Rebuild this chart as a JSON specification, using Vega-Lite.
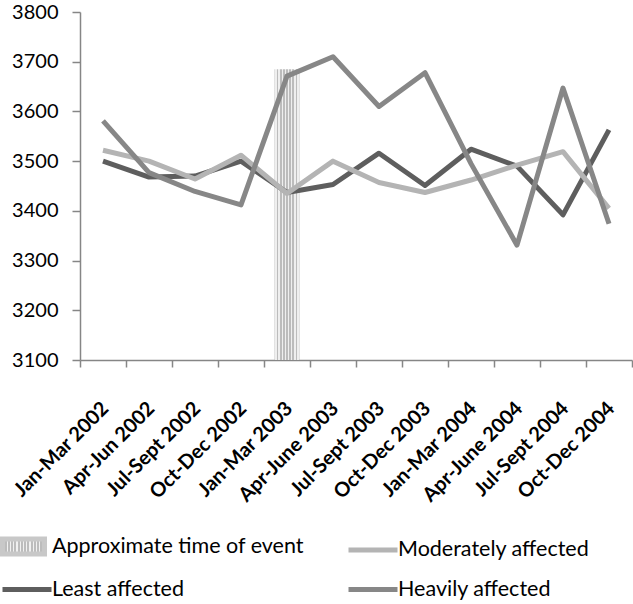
{
  "$schema": "https://vega.github.io/schema/vega-lite/v6.json",
  "width": 552,
  "height": 348,
  "autosize": {"type": "none"},
  "padding": {"left": 80, "top": 12, "right": 1, "bottom": 244},
  "background": "white",
  "config": {"view": {"stroke": null}, "font": "Lato"},
  "datasets": {
    "event": [{"quarter": "Jan-Mar 2003", "value": 3685}],
    "series": [
      {"quarter": "Jan-Mar 2002", "series": "Least affected", "value": 3500},
      {"quarter": "Apr-Jun 2002", "series": "Least affected", "value": 3468},
      {"quarter": "Jul-Sept 2002", "series": "Least affected", "value": 3470},
      {"quarter": "Oct-Dec 2002", "series": "Least affected", "value": 3500},
      {"quarter": "Jan-Mar 2003", "series": "Least affected", "value": 3437},
      {"quarter": "Apr-June 2003", "series": "Least affected", "value": 3453},
      {"quarter": "Jul-Sept 2003", "series": "Least affected", "value": 3516},
      {"quarter": "Oct-Dec 2003", "series": "Least affected", "value": 3451},
      {"quarter": "Jan-Mar 2004", "series": "Least affected", "value": 3524},
      {"quarter": "Apr-June 2004", "series": "Least affected", "value": 3490},
      {"quarter": "Jul-Sept 2004", "series": "Least affected", "value": 3392},
      {"quarter": "Oct-Dec 2004", "series": "Least affected", "value": 3563},
      {"quarter": "Jan-Mar 2002", "series": "Moderately affected", "value": 3522},
      {"quarter": "Apr-Jun 2002", "series": "Moderately affected", "value": 3500},
      {"quarter": "Jul-Sept 2002", "series": "Moderately affected", "value": 3464},
      {"quarter": "Oct-Dec 2002", "series": "Moderately affected", "value": 3512},
      {"quarter": "Jan-Mar 2003", "series": "Moderately affected", "value": 3435},
      {"quarter": "Apr-June 2003", "series": "Moderately affected", "value": 3500},
      {"quarter": "Jul-Sept 2003", "series": "Moderately affected", "value": 3457},
      {"quarter": "Oct-Dec 2003", "series": "Moderately affected", "value": 3437},
      {"quarter": "Jan-Mar 2004", "series": "Moderately affected", "value": 3462},
      {"quarter": "Apr-June 2004", "series": "Moderately affected", "value": 3492},
      {"quarter": "Jul-Sept 2004", "series": "Moderately affected", "value": 3519},
      {"quarter": "Oct-Dec 2004", "series": "Moderately affected", "value": 3405},
      {"quarter": "Jan-Mar 2002", "series": "Heavily affected", "value": 3581},
      {"quarter": "Apr-Jun 2002", "series": "Heavily affected", "value": 3477},
      {"quarter": "Jul-Sept 2002", "series": "Heavily affected", "value": 3439},
      {"quarter": "Oct-Dec 2002", "series": "Heavily affected", "value": 3412},
      {"quarter": "Jan-Mar 2003", "series": "Heavily affected", "value": 3671},
      {"quarter": "Apr-June 2003", "series": "Heavily affected", "value": 3710},
      {"quarter": "Jul-Sept 2003", "series": "Heavily affected", "value": 3610},
      {"quarter": "Oct-Dec 2003", "series": "Heavily affected", "value": 3678},
      {"quarter": "Jan-Mar 2004", "series": "Heavily affected", "value": 3495},
      {"quarter": "Apr-June 2004", "series": "Heavily affected", "value": 3331},
      {"quarter": "Jul-Sept 2004", "series": "Heavily affected", "value": 3647},
      {"quarter": "Oct-Dec 2004", "series": "Heavily affected", "value": 3374}
    ]
  },
  "layer": [
    {
      "data": {"name": "event"},
      "mark": {
        "type": "bar",
        "width": {"band": 0.54},
        "fill": {
          "gradient": "linear", "x1": 0, "y1": 0, "x2": 1, "y2": 0,
          "stops": [
            {"offset": 0, "color": "#bcbcbc"}, {"offset": 0.03, "color": "#bcbcbc"},
            {"offset": 0.03, "color": "#efefef"}, {"offset": 0.095, "color": "#efefef"},
            {"offset": 0.095, "color": "#bcbcbc"}, {"offset": 0.155, "color": "#bcbcbc"},
            {"offset": 0.155, "color": "#efefef"}, {"offset": 0.22, "color": "#efefef"},
            {"offset": 0.22, "color": "#bcbcbc"}, {"offset": 0.28, "color": "#bcbcbc"},
            {"offset": 0.28, "color": "#efefef"}, {"offset": 0.345, "color": "#efefef"},
            {"offset": 0.345, "color": "#bcbcbc"}, {"offset": 0.405, "color": "#bcbcbc"},
            {"offset": 0.405, "color": "#efefef"}, {"offset": 0.47, "color": "#efefef"},
            {"offset": 0.47, "color": "#bcbcbc"}, {"offset": 0.53, "color": "#bcbcbc"},
            {"offset": 0.53, "color": "#efefef"}, {"offset": 0.595, "color": "#efefef"},
            {"offset": 0.595, "color": "#bcbcbc"}, {"offset": 0.655, "color": "#bcbcbc"},
            {"offset": 0.655, "color": "#efefef"}, {"offset": 0.72, "color": "#efefef"},
            {"offset": 0.72, "color": "#bcbcbc"}, {"offset": 0.78, "color": "#bcbcbc"},
            {"offset": 0.78, "color": "#efefef"}, {"offset": 0.845, "color": "#efefef"},
            {"offset": 0.845, "color": "#bcbcbc"}, {"offset": 0.905, "color": "#bcbcbc"},
            {"offset": 0.905, "color": "#efefef"}, {"offset": 0.97, "color": "#efefef"},
            {"offset": 0.97, "color": "#bcbcbc"}, {"offset": 1, "color": "#bcbcbc"}
          ]
        },
        "stroke": null
      },
      "encoding": {
        "x": {
          "field": "quarter",
          "type": "nominal",
          "sort": ["Jan-Mar 2002", "Apr-Jun 2002", "Jul-Sept 2002", "Oct-Dec 2002", "Jan-Mar 2003", "Apr-June 2003", "Jul-Sept 2003", "Oct-Dec 2003", "Jan-Mar 2004", "Apr-June 2004", "Jul-Sept 2004", "Oct-Dec 2004"],
          "scale": {"type": "band", "paddingInner": 0, "paddingOuter": 0},
          "axis": {
            "title": null,
            "labelAngle": -45,
            "labelFont": "Lato",
            "labelFontWeight": "bold",
            "labelFontSize": 20,
            "labelColor": "black",
            "tickBand": "extent",
            "tickSize": 7,
            "tickColor": "#868686",
            "tickWidth": 1.5,
            "domainColor": "#868686",
            "domainWidth": 1.5,
            "labelPadding": 31,
            "labelOffset": -5
          }
        },
        "y": {
          "field": "value",
          "type": "quantitative",
          "scale": {"domain": [3100, 3800], "nice": false, "zero": false},
          "axis": {
            "title": null,
            "format": "d",
            "values": [3100, 3200, 3300, 3400, 3500, 3600, 3700, 3800],
            "labelFont": "Lato",
            "labelFontSize": 20,
            "labelColor": "black",
            "grid": false,
            "tickSize": 8,
            "tickColor": "#868686",
            "tickWidth": 1.5,
            "domainColor": "#868686",
            "domainWidth": 1.5,
            "labelPadding": 14
          }
        },
        "y2": {"datum": 3100}
      }
    },
    {
      "data": {"name": "series"},
      "mark": {"type": "line", "strokeWidth": 5, "strokeJoin": "round", "strokeCap": "butt"},
      "encoding": {
        "x": {
          "field": "quarter",
          "type": "nominal",
          "sort": ["Jan-Mar 2002", "Apr-Jun 2002", "Jul-Sept 2002", "Oct-Dec 2002", "Jan-Mar 2003", "Apr-June 2003", "Jul-Sept 2003", "Oct-Dec 2003", "Jan-Mar 2004", "Apr-June 2004", "Jul-Sept 2004", "Oct-Dec 2004"],
          "bandPosition": 0.5
        },
        "y": {"field": "value", "type": "quantitative"},
        "color": {
          "field": "series",
          "type": "nominal",
          "scale": {
            "domain": ["Approximate time of event", "Least affected", "Moderately affected", "Heavily affected"],
            "range": ["#c8c8c8", "#5e5e5e", "#b4b4b4", "#878787"]
          },
          "legend": {
            "title": null,
            "orient": "none",
            "legendX": -90,
            "legendY": 522,
            "columns": 2,
            "columnPadding": 32,
            "rowPadding": 13,
            "padding": 0,
            "symbolType": "stroke",
            "symbolSize": 400,
            "symbolStrokeWidth": 5,
            "labelOffset": 37,
            "labelFont": "Lato",
            "labelFontSize": 21.5,
            "labelColor": "black",
            "labelLimit": 400,
            "encode": {
              "symbols": {
                "update": {
                  "shape": [
                    {"test": "datum.value === 'Approximate time of event'", "value": "M0,-0.75H4.2V0.75H0Z"},
                    {"value": "M0,0H4.9"}
                  ],
                  "fill": [
                    {"test": "datum.value === 'Approximate time of event'", "value": {
                      "gradient": "linear", "x1": 0, "y1": 0, "x2": 1, "y2": 0,
                      "stops": [
                        {"offset": 0, "color": "#bcbcbc"}, {"offset": 0.025, "color": "#bcbcbc"},
                        {"offset": 0.025, "color": "#f0f0f0"}, {"offset": 0.052, "color": "#f0f0f0"},
                        {"offset": 0.052, "color": "#bcbcbc"}, {"offset": 0.102, "color": "#bcbcbc"},
                        {"offset": 0.102, "color": "#f0f0f0"}, {"offset": 0.129, "color": "#f0f0f0"},
                        {"offset": 0.129, "color": "#bcbcbc"}, {"offset": 0.179, "color": "#bcbcbc"},
                        {"offset": 0.179, "color": "#f0f0f0"}, {"offset": 0.206, "color": "#f0f0f0"},
                        {"offset": 0.206, "color": "#bcbcbc"}, {"offset": 0.256, "color": "#bcbcbc"},
                        {"offset": 0.256, "color": "#f0f0f0"}, {"offset": 0.283, "color": "#f0f0f0"},
                        {"offset": 0.283, "color": "#bcbcbc"}, {"offset": 0.333, "color": "#bcbcbc"},
                        {"offset": 0.333, "color": "#f0f0f0"}, {"offset": 0.36, "color": "#f0f0f0"},
                        {"offset": 0.36, "color": "#bcbcbc"}, {"offset": 0.41, "color": "#bcbcbc"},
                        {"offset": 0.41, "color": "#f0f0f0"}, {"offset": 0.437, "color": "#f0f0f0"},
                        {"offset": 0.437, "color": "#bcbcbc"}, {"offset": 0.487, "color": "#bcbcbc"},
                        {"offset": 0.487, "color": "#f0f0f0"}, {"offset": 0.514, "color": "#f0f0f0"},
                        {"offset": 0.514, "color": "#bcbcbc"}, {"offset": 0.564, "color": "#bcbcbc"},
                        {"offset": 0.564, "color": "#f0f0f0"}, {"offset": 0.591, "color": "#f0f0f0"},
                        {"offset": 0.591, "color": "#bcbcbc"}, {"offset": 0.641, "color": "#bcbcbc"},
                        {"offset": 0.641, "color": "#f0f0f0"}, {"offset": 0.668, "color": "#f0f0f0"},
                        {"offset": 0.668, "color": "#bcbcbc"}, {"offset": 0.718, "color": "#bcbcbc"},
                        {"offset": 0.718, "color": "#f0f0f0"}, {"offset": 0.745, "color": "#f0f0f0"},
                        {"offset": 0.745, "color": "#bcbcbc"}, {"offset": 0.795, "color": "#bcbcbc"},
                        {"offset": 0.795, "color": "#f0f0f0"}, {"offset": 0.822, "color": "#f0f0f0"},
                        {"offset": 0.822, "color": "#bcbcbc"}, {"offset": 0.872, "color": "#bcbcbc"},
                        {"offset": 0.872, "color": "#f0f0f0"}, {"offset": 0.899, "color": "#f0f0f0"},
                        {"offset": 0.899, "color": "#bcbcbc"}, {"offset": 0.949, "color": "#bcbcbc"},
                        {"offset": 0.949, "color": "#f0f0f0"}, {"offset": 0.976, "color": "#f0f0f0"},
                        {"offset": 0.976, "color": "#bcbcbc"}, {"offset": 1, "color": "#bcbcbc"}
                      ]
                    }},
                    {"value": "transparent"}
                  ],
                  "stroke": [
                    {"test": "datum.value === 'Approximate time of event'", "value": "transparent"},
                    {"scale": "color", "field": "value"}
                  ],
                  "strokeWidth": {"value": 5}
                }
              }
            }
          }
        }
      }
    }
  ]
}
